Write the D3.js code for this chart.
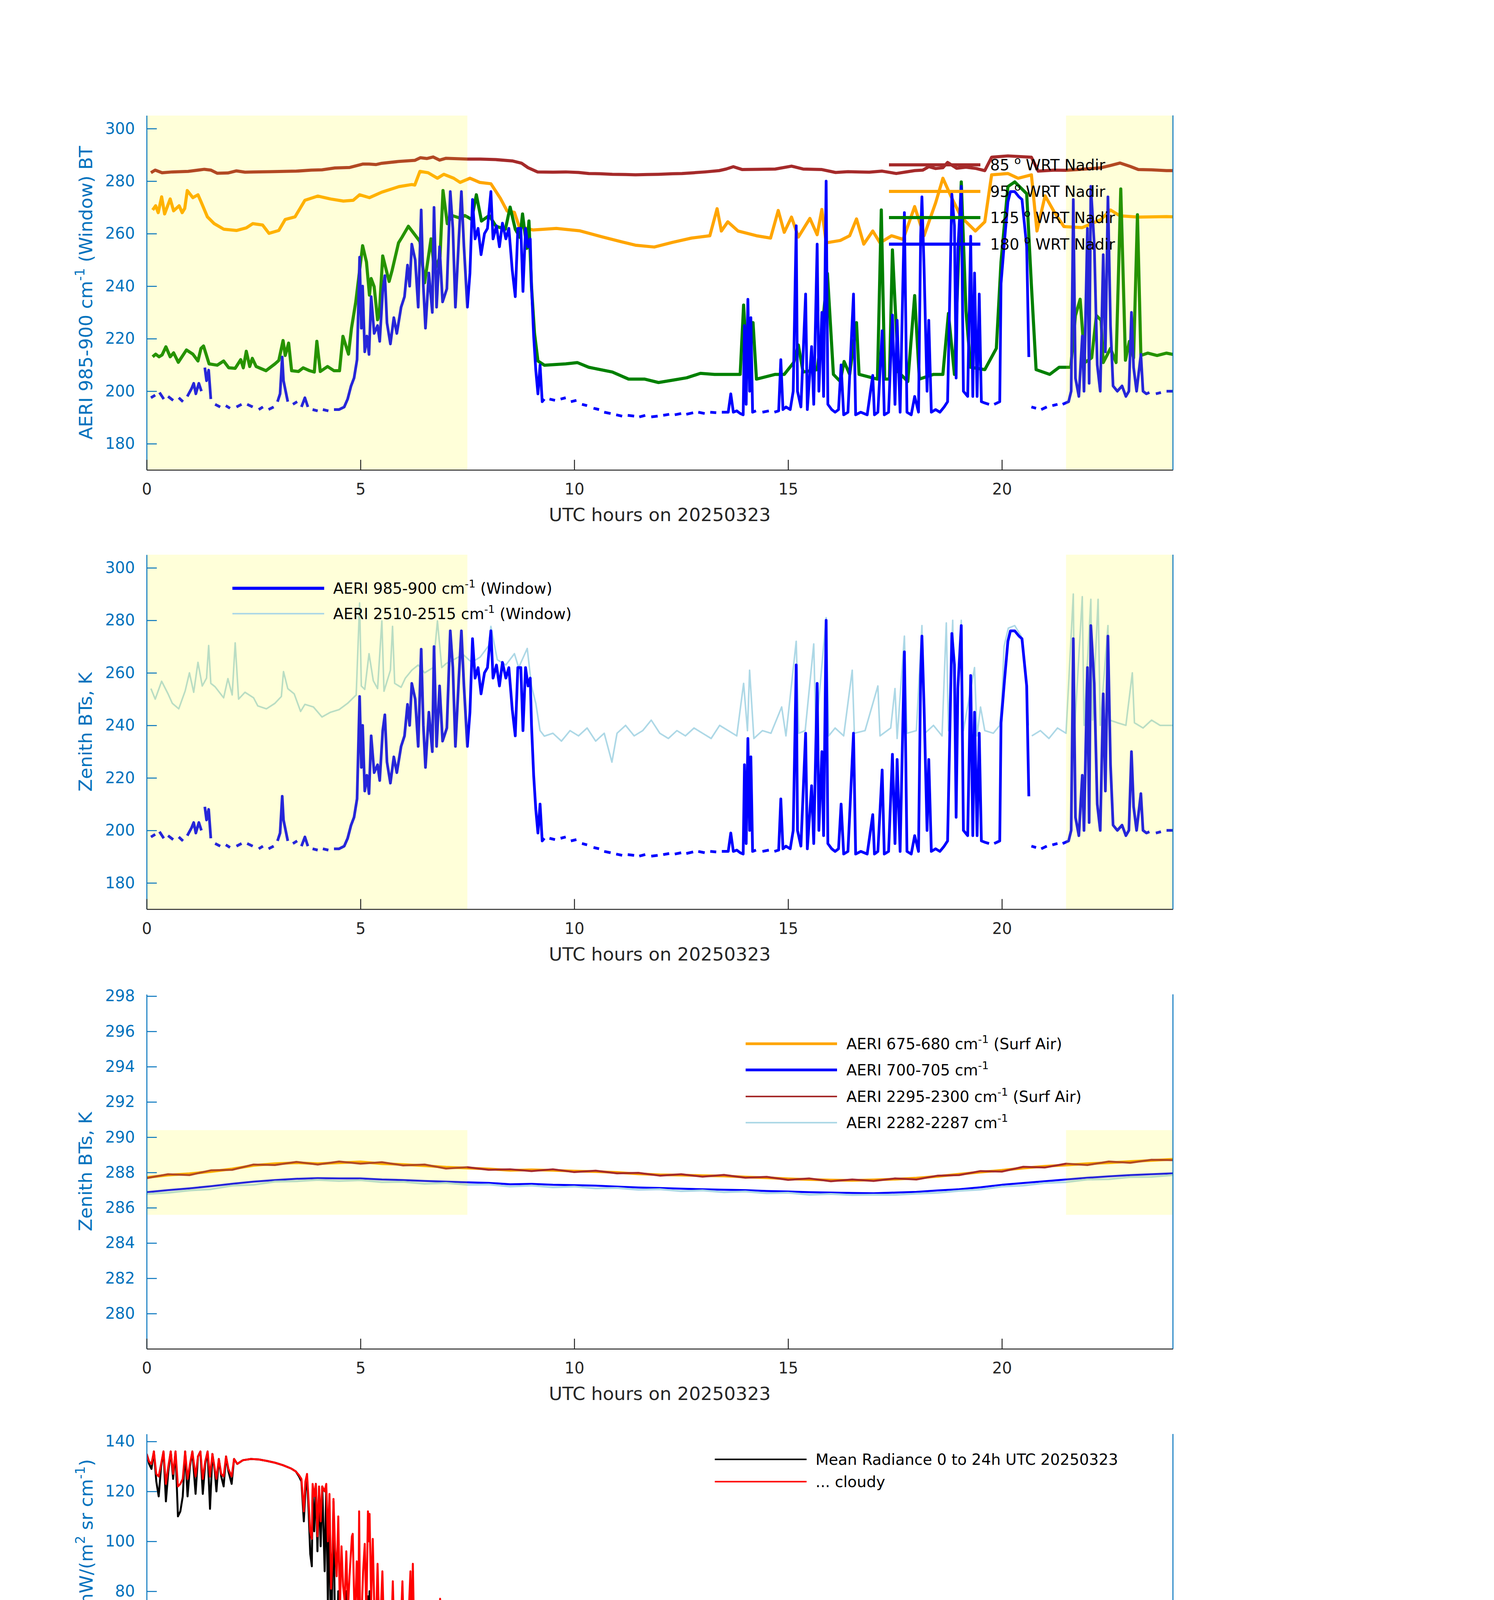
<!DOCTYPE html>
<html>
<head>
<meta charset="utf-8">
<script src="https://cdn.jsdelivr.net/npm/d3@7"></script>
<style>
  html, body { margin: 0; padding: 0; background: #fff; width: 3825px; height: 6000px; overflow: hidden; }
  svg { display: block; }
  text { font-family: "DejaVu Sans", sans-serif; }
</style>
</head>
<body>
<svg id="chart"></svg>
<script>
// ---- panel 1/2/3: hours on 20250323 ----
let shadeStart = [0, 21.5]
let shadeEnd = [7.5, 24]

let hrs85 = [0.1,0.2,0.36,0.6,0.97,1.35,1.5,1.65,1.9,2.1,
  2.3,2.5,2.9,3.2,3.5,3.85,4.1,4.4,4.75,5.06,
  5.2,5.36,5.5,5.9,6.27,6.4,6.55,6.7,6.85,7.0,
  7.5,7.8,8.16,8.55,8.77,8.92,9.14,9.5,9.8,10.1,
  10.34,10.6,10.89,11.2,11.43,11.7,11.97,12.3,12.52,12.8,
  13.06,13.39,13.55,13.72,13.93,14.3,14.7,15.08,15.35,15.6,
  15.79,16.11,16.4,16.66,16.9,17.2,17.53,17.8,17.96,18.15,
  18.29,18.45,18.62,18.73,18.94,19.16,19.4,19.6,19.76,20.14,
  20.69,20.85,21.23,21.5,21.78,22.1,22.32,22.55,22.76,23.0,
  23.19,23.5,23.85,24.0]
let bt85 = [283.2,284.2,283.2,283.5,283.7,284.5,284.2,283.0,283.1,283.9,
  283.4,283.5,283.6,283.7,283.8,284.2,284.3,285.0,285.2,286.5,
  286.5,286.3,286.8,287.5,287.9,288.9,288.6,289.2,288.0,288.7,
  288.4,288.4,288.2,287.7,286.8,285.1,283.5,283.4,283.5,283.3,
  282.9,282.8,282.6,282.5,282.4,282.5,282.6,282.8,282.9,283.2,
  283.5,284.0,284.6,285.5,284.4,284.5,284.6,285.7,284.6,284.5,
  284.4,283.3,283.6,283.5,283.4,283.8,282.9,283.6,284.0,284.2,
  285.5,284.8,285.1,287.1,284.9,285.3,284.8,284.0,289.1,289.6,
  289.1,283.8,284.2,284.1,284.4,284.8,285.1,286.0,286.9,285.6,
  284.4,284.3,284.0,284.0]

let hrs95 = [0.14,0.21,0.27,0.35,0.42,0.55,0.63,0.76,0.83,0.89,
  0.95,1.08,1.2,1.27,1.42,1.58,1.8,2.1,2.33,2.48,
  2.71,2.86,3.09,3.24,3.47,3.7,4.0,4.3,4.6,4.83,
  4.98,5.21,5.5,5.9,6.2,6.27,6.39,6.58,6.8,6.95,
  7.18,7.33,7.56,7.79,8.05,8.27,8.43,8.6,8.71,9.03,
  9.58,10.12,10.67,11.1,11.43,11.87,12.3,12.74,13.17,13.34,
  13.44,13.59,13.83,14.26,14.59,14.77,14.91,15.08,15.24,15.51,
  15.68,15.79,15.89,16.22,16.44,16.6,16.77,16.98,17.15,17.42,
  17.69,17.96,18.18,18.45,18.62,18.83,19.05,19.38,19.6,19.76,
  20.14,20.38,20.69,20.82,21.01,21.23,21.45,21.88,22.32,22.54,
  22.76,23.19,23.85,24.0]
let bt95 = [269.0,270.6,268.0,274.0,267.5,273.2,268.7,270.6,268.0,269.6,
  276.4,273.7,274.8,272.2,266.4,263.8,261.7,261.2,262.2,263.8,
  263.3,260.1,261.2,265.4,266.4,272.7,274.3,273.2,272.4,272.7,
  274.8,273.7,275.8,277.9,278.7,278.5,283.7,283.2,281.1,282.6,
  281.1,279.5,281.1,279.5,279.0,273.5,268.6,268.1,262.7,261.4,
  262.0,261.1,258.7,256.9,255.6,254.9,256.7,258.3,259.2,269.5,
  261.0,264.5,261.0,259.2,258.3,268.8,260.5,266.3,258.7,265.8,
  259.6,269.2,256.5,257.4,259.2,265.6,256.0,261.0,256.5,259.2,
  257.8,270.3,259.2,271.7,281.1,273.5,266.3,261.0,264.5,282.4,
  282.9,281.1,282.4,261.0,274.4,268.1,262.7,262.3,265.4,269.0,
  266.8,266.3,266.5,266.4]

let hrs125 = [0.14,0.21,0.29,0.36,0.45,0.55,0.63,0.74,0.93,1.08,
  1.2,1.27,1.33,1.46,1.65,1.8,1.92,2.07,2.2,2.26,
  2.33,2.41,2.47,2.56,2.79,3.0,3.09,3.19,3.24,3.32,
  3.39,3.55,3.66,3.81,3.92,3.98,4.06,4.23,4.38,4.51,
  4.59,4.72,4.79,4.89,5.05,5.14,5.21,5.25,5.32,5.4,
  5.44,5.52,5.67,5.74,5.89,5.97,6.12,6.27,6.39,6.5,
  6.65,6.73,6.86,6.93,7.03,7.14,7.33,7.44,7.6,7.71,
  7.83,8.01,8.17,8.39,8.5,8.62,8.73,8.79,8.89,8.94,
  9.0,9.07,9.15,9.3,9.8,10.07,10.34,10.89,11.27,11.65,
  11.97,12.3,12.63,12.95,13.28,13.61,13.88,13.96,14.04,14.18,
  14.26,14.7,14.91,15.13,15.24,15.35,15.68,15.79,15.92,16.06,
  16.22,16.31,16.44,16.6,16.66,17.09,17.18,17.26,17.37,17.44,
  17.58,17.8,17.96,18.07,18.4,18.62,18.75,18.89,19.05,19.16,
  19.27,19.6,19.87,19.98,20.14,20.3,20.58,20.69,20.8,21.12,
  21.34,21.61,21.72,21.83,21.94,22.1,22.21,22.32,22.37,22.54,
  22.67,22.78,22.89,22.98,23.08,23.17,23.25,23.41,23.63,23.85,
  24.0]
let bt125 = [213.1,214.1,213.1,213.8,216.9,213.1,214.6,211.0,215.7,214.1,
  211.5,216.3,217.2,210.4,209.9,211.5,208.9,208.7,212.0,208.9,
  215.2,209.4,212.5,209.4,207.8,210.4,211.7,219.3,213.6,218.3,
  207.8,207.5,208.9,207.8,207.3,219.0,207.5,209.4,207.8,207.8,
  220.9,214.1,224.0,234.0,255.4,249.2,236.6,242.9,239.8,227.2,
  229.3,251.5,241.8,246.0,256.5,258.6,262.8,259.6,257.0,241.3,
  258.0,246.0,251.2,276.4,263.8,266.9,265.9,266.9,265.4,274.8,
  264.8,266.9,262.8,261.7,270.1,261.7,258.6,267.5,254.4,264.8,
  239.7,222.0,211.5,209.9,210.4,210.9,209.1,207.3,204.6,204.6,
  203.3,204.2,205.1,206.8,206.4,206.4,206.4,232.8,209.1,226.1,
  204.6,206.4,206.4,210.9,217.6,207.3,208.2,222.5,244.8,206.4,
  203.7,211.3,206.4,226.1,206.4,204.6,269.0,204.6,204.6,253.8,
  207.3,203.7,236.4,204.6,206.4,206.4,229.6,206.4,279.7,230.5,
  209.1,208.2,216.3,249.3,277.9,279.7,275.2,240.4,208.2,206.4,
  209.1,209.1,228.8,235.0,210.9,212.7,228.8,227.0,210.9,216.3,
  210.9,277.0,211.8,218.9,212.7,267.2,213.6,214.5,213.6,214.5,
  214.0]

// 985-900 cm-1 window, zenith (same in panels 1 and 2); null = no data
let hrsWin = [0.1,0.2,0.25,0.3,0.4,0.45,0.5,0.62,0.68,0.75,
  0.85,0.9,0.95,1.05,1.1,1.15,1.22,1.28,1.32,1.36,
  1.4,1.45,1.5,1.55,1.6,1.72,1.78,1.85,1.95,2.0,
  2.1,2.22,2.28,2.35,2.48,2.55,2.62,2.72,2.78,2.85,
  2.97,3.02,3.06,3.12,3.17,3.2,3.25,3.3,3.35,3.42,
  3.52,3.58,3.62,3.7,3.77,3.82,3.88,4.0,4.05,4.12,
  4.25,4.3,4.38,4.5,4.62,4.7,4.78,4.85,4.92,4.98,
  5.02,5.05,5.1,5.15,5.2,5.25,5.32,5.4,5.45,5.52,
  5.57,5.62,5.7,5.78,5.85,5.95,6.03,6.1,6.15,6.2,
  6.28,6.35,6.42,6.47,6.52,6.6,6.68,6.72,6.78,6.85,
  6.92,7.02,7.1,7.16,7.22,7.3,7.36,7.42,7.5,7.56,
  7.62,7.68,7.75,7.82,7.9,7.97,8.05,8.1,8.18,8.25,
  8.32,8.4,8.47,8.55,8.62,8.68,8.75,8.8,8.86,8.92,
  8.97,9.0,9.05,9.1,9.15,9.2,9.25,9.3,9.35,9.42,
  9.55,9.6,9.68,9.8,9.85,9.92,10.05,10.1,10.18,10.3,
  10.35,10.45,10.58,10.62,10.7,10.85,10.9,10.98,11.12,11.18,
  11.25,11.4,11.45,11.52,11.66,11.72,11.8,11.95,12.0,12.08,
  12.22,12.28,12.35,12.5,12.55,12.62,12.78,12.82,12.9,13.05,
  13.1,13.18,13.32,13.38,13.45,13.6,13.66,13.72,13.8,13.88,
  13.95,13.98,14.02,14.06,14.1,14.13,14.17,14.25,14.32,14.4,
  14.55,14.6,14.68,14.78,14.83,14.88,14.95,15.05,15.12,15.19,
  15.22,15.3,15.41,15.45,15.55,15.6,15.68,15.72,15.79,15.83,
  15.89,15.93,16.02,16.1,16.18,16.24,16.3,16.4,16.53,16.58,
  16.7,16.85,16.98,17.02,17.1,17.2,17.25,17.35,17.44,17.5,
  17.55,17.62,17.72,17.78,17.88,17.96,18.05,18.1,18.13,18.18,
  18.25,18.29,18.35,18.45,18.55,18.65,18.73,18.83,18.89,18.93,
  18.97,19.05,19.1,19.2,19.27,19.32,19.36,19.42,19.47,19.52,
  19.6,19.7,19.75,19.82,19.95,19.98,20.06,20.14,20.2,20.3,
  20.4,20.47,20.58,20.63,20.66,20.69,20.8,20.85,20.92,21.05,
  21.1,21.18,21.3,21.35,21.42,21.56,21.62,21.67,21.72,21.8,
  21.88,21.92,22.0,22.04,22.08,22.16,22.23,22.3,22.37,22.42,
  22.48,22.54,22.6,22.7,22.81,22.9,22.97,23.03,23.08,23.15,
  23.25,23.3,23.38,23.45,23.52,23.6,23.72,23.78,23.85,24.0]
let btWin = [197.5,198.5,null,199.5,197,null,198,196.5,null,197.5,
  196,null,198,201,203,199,203,200,null,209,
  204,208,197,null,195,194,null,194.5,193.5,null,
  194,195,null,195,194,null,193,194,null,193,
  194,null,196,199,213,204,200,196,null,195,
  196,null,194,197.5,194,null,193,192.5,null,193,
  192.5,null,193,193,194,197,202,205,212,251,
  224,240,215,221,214,236,222,225,219,238,
  244,226,218,228,222,232,236,248,240,256,
  250,232,269,240,224,245,230,270,232,255,
  234,239,276,262,232,258,276,255,232,245,
  273,258,262,252,260,262,276,258,263,255,
  264,258,262,246,236,262,262,238,262,255,
  258,240,221,208,199,210,196,197,null,197,
  196.5,null,197,197.5,null,196,196.5,null,195,194.5,
  null,193.5,193,null,192,191.5,null,191,190.5,null,
  190.8,190.5,null,190.2,190.8,null,190.2,190.5,null,190.8,
  191.2,null,191,191.5,null,191.2,191.8,null,192,191.5,
  null,192,191.8,null,192,192,199,192,192.5,191.5,
  191,225,195,235,200,228,192,192.5,null,192,
  192.5,null,192,192.5,212,193,194,193,200,263,
  200,194,237,193,217,195,256,200,230,198,
  280,195,193,192,193,210,191,192,237,191,
  192,191,206,191,192,223,191,192,229,195,
  227,192,268,192,191,198,192,259,274,247,
  200,227,192,193,192,194,196,275,263,205,
  254,278,200,198,259,198,245,198,237,196,
  195.5,195,null,195,196,241,257,272,276,276,
  274,273,255,213,null,194,193.5,null,193,194,
  null,194.5,195,null,195,196,200,273,205,198,
  221,200,262,203,278,256,210,200,252,215,
  274,225,202,200,202,198,200,230,209,200,
  214,200,199,199.5,null,199,199.5,null,200,200]

// 2510-2515 cm-1 window, zenith
let hrsLb = [0.1,0.2,0.35,0.5,0.6,0.75,0.9,1.0,1.1,1.2,
  1.3,1.4,1.45,1.5,1.6,1.8,1.9,2.0,2.07,2.15,
  2.3,2.5,2.6,2.8,3.0,3.15,3.2,3.3,3.45,3.6,
  3.7,3.9,4.1,4.3,4.5,4.7,4.9,4.98,5.02,5.1,
  5.2,5.3,5.4,5.5,5.55,5.7,5.75,5.8,5.95,6.05,
  6.2,6.35,6.5,6.7,6.8,6.9,7.0,7.2,7.4,7.6,
  7.8,8.0,8.05,8.2,8.4,8.6,8.7,8.9,9.0,9.1,
  9.2,9.3,9.5,9.7,9.9,10.1,10.3,10.5,10.7,10.88,
  11.0,11.2,11.4,11.6,11.8,12.0,12.2,12.4,12.6,12.8,
  13.0,13.2,13.4,13.6,13.8,13.96,14.05,14.1,14.2,14.4,
  14.6,14.85,14.95,15.19,15.25,15.4,15.6,15.65,15.89,15.95,
  16.1,16.3,16.5,16.55,16.8,17.1,17.15,17.4,17.5,17.55,
  17.72,17.78,18.0,18.13,18.2,18.4,18.6,18.7,18.75,18.85,
  18.9,19.05,19.1,19.36,19.42,19.5,19.6,19.8,19.95,20.0,
  20.05,20.15,20.3,20.45,20.55,20.62,20.66,20.7,20.9,21.1,
  21.3,21.5,21.67,21.7,21.88,21.92,22.08,22.12,22.25,22.3,
  22.48,22.52,22.7,22.9,23.05,23.1,23.3,23.5,23.7,24.0]
let btLb = [254,250,256.8,252,248.4,246.3,253.1,260,252.6,264,
  255,258,270.4,256,254.7,250.5,257.8,251.6,271.4,250,
  252.6,250.5,247.4,246.3,248.4,251,260.5,254,252,245.3,
  248,247,243.2,245,246,248.4,251.6,286.6,255,253.7,
  267.3,257,254,279.8,253,261,277.7,256,254.5,258,
  261,263,260,262,279.8,262,263.5,265.2,267,264,
  266,270.4,277.7,265,263,267.3,262,269.3,255,248.4,
  238,235.9,237,234,238,236,239,234,237,226,
  237,240,236,238,242,237,235,238,236,239,
  237,235,240,238,236,256,238,261,235,238,
  237,247,236,272,237,238,271,237,281,236,
  239,236,261,237,238,255,236,239,254,235,
  274,237,238,278,237,240,236,279,238,280,
  236,280,238,262,236,247,238,237,240,250,
  270,277,278,274,260,240,null,236,238,235,
  239,237,290,238,289,240,288,242,288,240,
  278,242,241,240,260,241,239,242,240,240]

// panel 3: surface air and clear channels
let hrs3 = [0,0.5,1,1.5,2,2.5,3,3.5,4,4.5,5,5.5,6,6.5,7,7.5,8,8.5,9,9.5,
  10,10.5,11,11.5,12,12.5,13,13.5,14,14.5,15,15.5,16,16.5,17,17.5,18,18.5,19,19.5,
  20,20.5,21,21.5,22,22.5,23,23.5,24]
let bt675 = [287.72,287.85,287.93,288.05,288.2,288.4,288.5,288.55,288.5,288.55,
  288.6,288.5,288.45,288.38,288.3,288.25,288.2,288.12,288.15,288.12,
  288.08,288.05,288.0,287.92,287.87,287.85,287.82,287.8,287.74,287.7,
  287.64,287.6,287.57,287.55,287.58,287.62,287.68,287.78,287.9,288.02,
  288.12,288.25,288.35,288.42,288.5,288.55,288.62,288.68,288.75]
let bt700 = [286.88,287.0,287.1,287.22,287.36,287.48,287.57,287.64,287.68,287.66,
  287.66,287.6,287.57,287.52,287.48,287.44,287.41,287.33,287.35,287.3,
  287.28,287.25,287.2,287.15,287.12,287.08,287.05,287.02,287.0,286.95,
  286.92,286.88,286.86,286.84,286.82,286.86,286.9,286.98,287.05,287.16,
  287.3,287.4,287.5,287.6,287.7,287.78,287.85,287.9,287.95]
let bt2295 = [287.68,287.9,287.85,288.12,288.15,288.45,288.42,288.6,288.45,288.62,
  288.5,288.58,288.4,288.45,288.22,288.3,288.15,288.18,288.08,288.18,
  288.02,288.1,287.95,287.98,287.82,287.9,287.76,287.86,287.7,287.75,
  287.58,287.66,287.5,287.6,287.52,287.66,287.6,287.82,287.85,288.08,
  288.05,288.32,288.28,288.5,288.42,288.62,288.55,288.72,288.7]
let bt2282 = [286.78,286.85,286.98,287.05,287.25,287.3,287.48,287.5,287.58,287.52,
  287.56,287.45,287.47,287.36,287.4,287.3,287.32,287.2,287.26,287.16,
  287.2,287.1,287.12,287.02,287.05,286.94,286.98,286.88,286.92,286.82,
  286.85,286.74,286.78,286.72,286.74,286.73,286.8,286.85,286.96,287.03,
  287.2,287.26,287.4,287.45,287.6,287.62,287.74,287.75,287.85]

// ---- panel 4: mean radiance 520-1800 cm-1 ----
let wn4 = [520,523,526,529,532,535,538,541,544,547,
  550,553,556,559,562,565,568,571,574,577,
  581,584,587,590,593,596,599,602,605,607,
  610,613,616,619,622,626,629,633,640,650,
  660,670,680,690,700,706,710,713,716,718,
  720,722,724,726,727,729,731,733,735,737,
  739,742,744,746,748,750,752,753,755,757,
  759,761,763,765,767,769,771,773,776,777,
  779,780,782,784,785,786,788,790,792,794,
  796,797,798,800,802,804,806,808,810,812,
  814,816,818,820,822,825,827,829,832,836,
  839,841,845,849,850,852,854,858,861,865,
  867,871,873,878,882,886,888,892,896,900,
  904,909,911,916,920,922,924,928,932,936,
  940,944,947,949,953,957,961,965,970,975,
  976,980,985,990,995,1000,1005,1010,1013,1015,
  1018,1022,1028,1031,1036,1039,1043,1046,1050,1055,
  1058,1062,1065,1068,1072,1074,1077,1082,1086,1090,
  1093,1098,1102,1105,1108,1112,1114,1117,1121,1124,
  1128,1132,1135,1138,1143,1148,1151,1155,1160,1165,
  1170,1174,1177,1182,1186,1189,1193,1198,1201,1205,
  1210,1213,1217,1220,1223,1227,1230,1234,1237,1240,
  1243,1247,1250,1253,1256,1259,1262,1265,1268,1271,
  1274,1277,1281,1284,1287,1290,1294,1298,1301,1305,
  1309,1313,1318,1322,1326,1329,1332,1336,1340,1345,
  1350,1360,1370,1380,1390,1400,1410,1420,1421,1423,
  1430,1436,1438,1445,1456,1458,1470,1480,1490,1500,
  1512,1514,1520,1523,1530,1540,1543,1546,1555,1563,
  1566,1580,1600,1615,1621,1624,1635,1640,1643,1651,
  1656,1659,1670,1677,1680,1690,1697,1699,1702,1705,
  1717,1720,1740,1760,1780,1800]
let radAll4 = [135,131,129,136,124,118,130,136,116,128,
  136,125,136,110,112,118,136,118,130,136,
  119,134,136,119,131,136,113,135,128,120,
  133,126,122,134,128,123,133,131,132.5,133,
  132.8,132.2,131.5,130.5,129.2,128,126,124,108,120,
  126,112,95,90,121,104,123,96,121,98,
  122,88,122,75,110,54,95,116,60,45,
  80,48,62,35,55,80,38,56,72,75,
  40,36,60,40,80,42,38,58,72,45,
  78,68,80,48,75,35,42,68,33,45,
  64,32,42,33,34,30,80,30,29,28,
  82,28,27,84,28,88,26,26,26,70,
  25,72,24,24,23,74,23,22,22,21,
  22,70,21,21,20,62,20,20,20,19,
  19,20,58,19,19,18,17,18,16,24,
  15,14,15,14,15,15,17,20,34,36,
  22,23,36,24,22,33,20,12,24,25,
  30,20,40,10,9,35,8,9,9,20,
  9,9,9,40,9,10,40,9,9,35,
  9,9,55,9,9,45,9,9,10,9,
  10,50,9,9,54,10,9,45,9,9,
  40,9,9,30,12,9,7,7,20,44,
  12,18,30,22,15,35,25,30,38,37,
  34,32,36,22,30,34,25,32,30,33,
  34,34,35,36,28,26,33,34,34,33,
  33.5,33,32.5,32,31.2,30.4,29.7,29,33,28.8,
  27.8,30,27,26.5,28,25.8,25,24.5,24,23.6,
  24.5,22.6,25.5,22,21.5,20.5,20.3,20.1,19.6,19.2,
  19,17.8,16.5,15.7,15.4,15.2,14.6,14.4,14.2,13.8,
  13.5,13.4,12.9,12.6,12.5,12,11.7,11.6,11.5,11.4,
  10.9,10.8,10.1,9.5,9,8.5]
let radCld4 = [135,132,131,136,127,126,131,136,123,130,
  136,127,136,122,123,125,136,125,131,136,
  126,134,136,125,132,136,126,135,129,125,
  133,127,126,134,129,126,133,131,132.5,133,
  132.8,132.2,131.5,130.5,129.2,128,126.5,125,112,124,
  127,116,104,101,123,118,123,102,122,108,
  122,120,123,100,119,81,97,117,97,86,
  110,72,98,82,76,96,72,86,102,103,
  74,70,92,68,112,74,70,88,99,70,
  112,100,111,76,101,72,67,91,66,72,
  88,64,66,63,62,61,84,60,59,58,
  84,58,57,88,60,91,55,55,54,73,
  54,75,53,52,53,77,51,50,50,49,
  48,72,48,47,46,64,46,45,45,44,
  44,43,61,43,43,42,40,41,39,48,
  39,38,37,37,36,36,38,46,57,49,
  38,38,48,39,38,45,37,36,39,38,
  40,34,57,33,31,53,30,29,29,52,
  28,28,27,52,27,27,52,26,26,52,
  26,26,58,26,25,49,25,26,26,25,
  26,54,25,25,57,25,24,50,24,22,
  49,22,24,50,27,26,25,28,33,46,
  29,28,35,33,31,43,40,44,40,39,
  42,38,38,33,36,35,33,35,36,35,
  35,36,36,37,34,28,34,35,34.5,33.5,
  33.8,33.2,32.7,32.2,31.4,30.5,29.8,29,33,28.8,
  27.8,30,27,26.5,28,25.8,25,24.5,24,23.6,
  24.5,22.6,25.5,22,21.5,20.6,28.5,20.2,19.6,26,
  19,17.8,16.5,15.7,21,15.2,14.6,18.5,14.2,13.8,
  20,13.4,12.9,16,12.5,12,18,11.6,15.5,11.4,
  17,10.8,10.1,9.5,9,8.5]

// ---- panel 5: mean radiance 1800-3020 cm-1 ----
let wn5 = [1800,1801,1803,1805,1808,1811,1813,1815,1818,1820,
  1823,1825,1828,1830,1833,1836,1838,1842,1845,1848,
  1852,1856,1858,1860,1862,1865,1868,1871,1874,1876,
  1878,1880,1882,1885,1888,1891,1894,1896,1898,1900,
  1902,1905,1907,1910,1913,1916,1919,1922,1925,1928,
  1930,1932,1934,1936,1938,1941,1944,1947,1949,1952,
  1955,1957,1959,1962,1964,1966,1969,1971,1973,1976,
  1978,1980,1982,1985,1988,1991,1993,1996,1998,2000,
  2003,2005,2008,2011,2014,2017,2020,2022,2025,2028,
  2030,2033,2036,2038,2040,2042,2044,2046,2048,2050,
  2053,2056,2058,2060,2063,2065,2068,2070,2072,2073,
  2076,2078,2080,2083,2086,2088,2090,2092,2095,2098,
  2100,2103,2105,2107,2110,2113,2116,2118,2120,2124,
  2126,2128,2130,2132,2135,2138,2140,2142,2144,2146,
  2148,2150,2152,2155,2158,2160,2162,2165,2167,2170,
  2172,2175,2177,2180,2183,2185,2188,2190,2193,2195,
  2198,2200,2203,2205,2208,2210,2213,2215,2218,2220,
  2223,2225,2228,2230,2233,2235,2237,2240,2242,2246,
  2250,2255,2260,2265,2270,2275,2280,2290,2300,2310,
  2320,2330,2340,2350,2360,2362,2364,2370,2380,2385,
  2390,2395,2400,2410,2420,2435,2450,2475,2500,2525,
  2550,2575,2600,2625,2640,2650,2675,2700,2720,2725,
  2750,2775,2800,2850,2900,2920,2950,2975,3000,3020]
let radAll5 = [8.6,8.8,8.4,8.35,8.3,8.45,8.2,7.7,8.15,7.6,
  7.9,8.05,7.9,8.0,7.7,7.55,7.6,7.55,7.4,7.6,
  7.35,7.2,6.9,6.5,7.1,6.5,6.95,7.0,6.8,6.0,
  6.3,5.45,5.6,6.45,6.0,6.45,6.0,6.3,5.8,4.65,
  5.3,5.9,5.5,5.9,5.3,5.6,5.85,5.55,5.7,5.0,
  4.2,3.65,4.2,5.3,3.6,4.4,5.3,5.2,4.6,3.8,
  2.8,5.0,4.2,2.75,4.6,4.9,3.3,4.8,4.9,1.85,
  2.6,4.3,1.5,2.2,1.9,3.5,4.5,4.4,2.8,2.2,
  4.3,1.3,1.2,4.0,3.9,1.48,2.3,4.0,1.4,3.9,
  1.3,3.8,0.9,1.3,0.8,1.0,2.2,3.3,3.5,2.8,
  1.6,1.2,1.5,0.95,1.5,1.2,2.0,3.3,2.0,1.05,
  3.3,1.6,1.3,1.8,1.1,2.0,2.8,1.2,0.8,1.5,
  1.1,1.6,1.0,0.6,1.5,0.5,1.2,0.8,0.5,1.2,
  0.6,1.6,0.7,0.45,1.0,0.5,1.2,0.6,0.4,0.8,
  1.5,0.6,1.3,0.35,1.2,0.5,0.4,1.0,0.45,0.35,
  0.7,1.0,0.5,0.4,0.7,0.55,0.8,0.6,0.9,0.8,
  1.1,1.0,1.3,1.2,1.4,1.3,1.4,1.45,1.5,1.45,
  1.5,1.45,1.4,1.3,0.95,1.2,1.4,1.55,1.6,1.62,
  1.65,1.67,1.68,1.66,1.67,1.65,1.63,1.59,1.54,1.49,
  1.43,1.38,1.33,1.28,1.23,1.3,1.22,1.18,1.11,1.03,
  0.76,0.52,0.43,0.35,0.28,0.25,0.22,0.18,0.14,0.12,
  0.1,0.09,0.09,0.1,0.09,0.09,0.1,0.09,0.13,0.09,
  0.08,0.07,0.06,0.06,0.05,0.05,0.05,0.05,0.05,0.05]
let radCld5 = [8.75,8.9,8.5,8.6,8.35,8.45,8.35,7.8,8.17,7.63,
  7.95,8.07,7.95,8.0,7.7,7.6,7.65,7.6,7.4,7.6,
  7.4,7.2,7.0,6.7,7.15,6.6,7.0,7.02,6.85,6.2,
  6.37,5.66,5.7,6.53,6.1,6.5,6.1,6.35,6.0,5.1,
  5.6,6.05,5.6,5.95,5.42,5.7,5.9,5.6,5.8,5.1,
  4.48,4.0,4.6,5.42,3.7,4.5,5.4,5.3,4.7,4.2,
  3.8,5.6,4.4,3.2,4.8,5.0,3.5,4.95,4.95,2.5,
  3.0,4.5,2.3,3.2,2.2,3.8,4.58,4.5,3.2,2.4,
  4.4,2.2,1.9,4.08,4.0,2.2,2.6,4.1,2.0,4.0,
  1.9,3.9,1.8,1.5,3.0,1.6,2.5,3.4,3.7,3.8,
  2.5,2.0,2.1,2.1,2.2,2.05,2.5,3.4,2.2,2.0,
  3.4,1.9,1.8,2.2,3.05,2.5,2.9,1.6,1.56,2.0,
  2.74,3.2,1.5,1.4,2.3,1.3,2.3,1.5,1.2,2.1,
  1.1,2.66,1.3,1.1,1.6,1.0,2.0,1.0,1.2,1.7,
  2.23,1.0,2.0,1.0,1.9,1.0,1.0,1.75,0.9,1.0,
  1.3,2.03,1.0,1.0,1.3,1.2,1.4,1.3,1.6,1.48,
  1.6,1.75,1.5,1.4,1.7,1.64,1.55,1.6,1.6,1.55,
  1.55,1.5,1.45,1.35,1.05,1.25,1.45,1.58,1.62,1.68,
  1.7,1.7,1.72,1.7,1.7,1.68,1.66,1.62,1.56,1.51,
  1.45,1.4,1.35,1.3,1.25,1.35,1.24,1.2,1.12,1.05,
  0.8,0.6,0.54,0.48,0.43,0.39,0.35,0.3,0.26,0.23,
  0.21,0.2,0.19,0.18,0.2,0.17,0.16,0.14,0.2,0.14,
  0.12,0.1,0.09,0.08,0.06,0.08,0.07,0.09,0.09,0.07]

// ---- layout ----
let width = 3825
let height = 6000
let axLeft = 375.5
let axRight = 3003
let panelTop = [295.6, 1420, 2545.5, 3671, 4794.7]
let panelH = 907.5
let axisBlue = "#0072BD"
let axisDark = "#262626"
let tickFont = 40
let labelFont = 47
let legendFont = 39

let svg = d3.select("#chart").attr("width", width).attr("height", height)
svg.append("rect").attr("width", width).attr("height", height).attr("fill", "#fff")

// superscripts are [text, true]
let addRich = (t, parts, size) => {
  let cur = 0
  parts.forEach((p) => {
    let s = t.append("tspan").text(p[0])
    let want = p[1] ? -0.42 * size : 0
    if (p[1]) s.style("font-size", (size * 0.7) + "px")
    if (want !== cur) s.attr("dy", want - cur)
    cur = want
  })
}

let makePanel = (i, xDomain, yDomain) => {
  let top = panelTop[i]
  let bottom = top + panelH
  let x = d3.scaleLinear().domain(xDomain).range([axLeft, axRight])
  let y = d3.scaleLinear().domain(yDomain).range([bottom, top])
  let g = svg.append("g")
  svg.append("clipPath").attr("id", "clip" + i)
    .append("rect")
    .attr("x", axLeft).attr("y", top)
    .attr("width", axRight - axLeft).attr("height", panelH)
  let plot = g.append("g").attr("clip-path", "url(#clip" + i + ")")
  return { g, plot, x, y, top, bottom }
}

let drawSeries = (p, xs, ys, color, w) => {
  let line = d3.line()
    .defined((d) => d[1] !== null)
    .x((d) => p.x(d[0]))
    .y((d) => p.y(d[1]))
  p.plot.append("path")
    .datum(d3.zip(xs, ys))
    .attr("d", line)
    .attr("fill", "none")
    .attr("stroke", color)
    .attr("stroke-width", w)
    .attr("stroke-linejoin", "round")
}

let drawShade = (p, lo, hi) => {
  p.plot.selectAll(null)
    .data(d3.zip(shadeStart, shadeEnd))
    .enter()
    .append("rect")
    .attr("x", (d) => p.x(d[0]))
    .attr("width", (d) => p.x(d[1]) - p.x(d[0]))
    .attr("y", p.y(hi))
    .attr("height", p.y(lo) - p.y(hi))
    .attr("fill", "#ffff00")
    .attr("fill-opacity", 0.15)
}

let drawAxes = (p, xTicks, yTicks) => {
  let yAxis = d3.axisLeft(p.y)
    .tickValues(yTicks)
    .tickSizeInner(-26)
    .tickSizeOuter(0)
    .tickPadding(30)
    .tickFormat(d3.format("d"))
  let ga = p.g.append("g")
    .attr("transform", "translate(" + axLeft + ",0)")
    .call(yAxis)
  ga.attr("font-size", null).attr("font-family", null)
  ga.select(".domain").attr("stroke", axisBlue).attr("stroke-width", 2.5)
  ga.selectAll(".tick line").attr("stroke", axisBlue).attr("stroke-width", 2.5)
  ga.selectAll(".tick text").attr("fill", axisBlue).style("font-size", tickFont + "px")

  let xAxis = d3.axisBottom(p.x)
    .tickValues(xTicks)
    .tickSizeInner(-26)
    .tickSizeOuter(0)
    .tickPadding(35)
    .tickFormat(d3.format("d"))
  let gx = p.g.append("g")
    .attr("transform", "translate(0," + p.bottom + ")")
    .call(xAxis)
  gx.attr("font-size", null).attr("font-family", null)
  gx.select(".domain").attr("stroke", axisDark).attr("stroke-width", 2.5)
  gx.selectAll(".tick line").attr("stroke", axisDark).attr("stroke-width", 2.5)
  gx.selectAll(".tick text").attr("fill", axisDark).style("font-size", tickFont + "px")

  p.g.append("line")
    .attr("x1", axRight).attr("x2", axRight)
    .attr("y1", p.top).attr("y2", p.bottom)
    .attr("stroke", axisBlue).attr("stroke-width", 2.5)
}

let drawLabels = (p, yParts, yCx, xParts, xGap) => {
  let ty = p.g.append("text")
    .attr("transform", "translate(" + yCx + "," + (p.top + p.bottom) / 2 + ") rotate(-90)")
    .attr("y", 0.36 * labelFont)
    .attr("text-anchor", "middle")
    .attr("fill", axisBlue)
    .style("font-size", labelFont + "px")
  addRich(ty, yParts, labelFont)

  let tx = p.g.append("text")
    .attr("x", (axLeft + axRight) / 2)
    .attr("y", p.bottom + xGap)
    .attr("text-anchor", "middle")
    .attr("fill", axisDark)
    .style("font-size", labelFont + "px")
  addRich(tx, xParts, labelFont)
}

let drawLegend = (p, items, x0, x1, tx, rows) => {
  items.forEach((it, k) => {
    p.g.append("line")
      .attr("x1", x0).attr("x2", x1)
      .attr("y1", rows[k]).attr("y2", rows[k])
      .attr("stroke", it.color).attr("stroke-width", it.w)
    let t = p.g.append("text")
      .attr("x", tx)
      .attr("y", rows[k] + 0.37 * legendFont)
      .attr("fill", "#000")
      .style("font-size", legendFont + "px")
    addRich(t, it.label, legendFont)
  })
}

let hourTicks = [0, 5, 10, 15, 20]
let btTicks = [180, 200, 220, 240, 260, 280, 300]
let utcLabel = [["UTC hours on 20250323"]]
let wnLabel = [["Wavenumber, cm"], ["-1", true]]
let radLabel = [["Mean Radiance, mW/(m"], ["2", true], [" sr cm"], ["-1", true], [")"]]

// panel 1
let p1 = makePanel(0, [0, 24], [170, 305])
drawSeries(p1, hrs85, bt85, "#A52A2A", 8)
drawSeries(p1, hrs95, bt95, "#FFA500", 8)
drawSeries(p1, hrs125, bt125, "#008000", 8)
drawSeries(p1, hrsWin, btWin, "#0000FF", 7)
drawShade(p1, 170, 305)
drawAxes(p1, hourTicks, btTicks)
drawLabels(p1, [["AERI 985-900 cm"], ["-1", true], [" (Window) BT"]], 219, utcLabel, 131)
drawLegend(p1, [
  { color: "#A52A2A", w: 8, label: [["85 "], ["o", true], [" WRT Nadir"]] },
  { color: "#FFA500", w: 8, label: [["95 "], ["o", true], [" WRT Nadir"]] },
  { color: "#008000", w: 8, label: [["125 "], ["o", true], [" WRT Nadir"]] },
  { color: "#0000FF", w: 8, label: [["180 "], ["o", true], [" WRT Nadir"]] }
], 2276, 2510, 2535, [422, 490, 557, 625])

// panel 2
let p2 = makePanel(1, [0, 24], [170, 305])
drawSeries(p2, hrsLb, btLb, "#ADD8E6", 4)
drawSeries(p2, hrsWin, btWin, "#0000FF", 7)
drawShade(p2, 170, 305)
drawAxes(p2, hourTicks, btTicks)
drawLabels(p2, [["Zenith BTs, K"]], 218, utcLabel, 131)
drawLegend(p2, [
  { color: "#0000FF", w: 8, label: [["AERI 985-900 cm"], ["-1", true], [" (Window)"]] },
  { color: "#ADD8E6", w: 4, label: [["AERI 2510-2515 cm"], ["-1", true], [" (Window)"]] }
], 595, 830, 853, [1506, 1571])

// panel 3
let p3 = makePanel(2, [0, 24], [278, 298.1])
drawSeries(p3, hrs3, bt675, "#FFA500", 7)
drawSeries(p3, hrs3, bt700, "#0000FF", 5)
drawSeries(p3, hrs3, bt2295, "#A52A2A", 5)
drawSeries(p3, hrs3, bt2282, "#ADD8E6", 5)
drawShade(p3, 285.6, 290.4)
drawAxes(p3, hourTicks, [280, 282, 284, 286, 288, 290, 292, 294, 296, 298])
drawLabels(p3, [["Zenith BTs, K"]], 218, utcLabel, 131)
drawLegend(p3, [
  { color: "#FFA500", w: 7, label: [["AERI 675-680 cm"], ["-1", true], [" (Surf Air)"]] },
  { color: "#0000FF", w: 7, label: [["AERI 700-705 cm"], ["-1", true]] },
  { color: "#A52A2A", w: 4, label: [["AERI 2295-2300 cm"], ["-1", true], [" (Surf Air)"]] },
  { color: "#ADD8E6", w: 4, label: [["AERI 2282-2287 cm"], ["-1", true]] }
], 1909, 2143, 2167, [2672, 2739, 2807, 2874])

// panel 4
let p4 = makePanel(3, [520, 1800], [1, 143])
drawSeries(p4, wn4, radAll4, "#000000", 5)
drawSeries(p4, wn4, radCld4, "#FF0000", 5)
drawAxes(p4, [600, 800, 1000, 1200, 1400, 1600, 1800], [20, 40, 60, 80, 100, 120, 140])
drawLabels(p4, radLabel, 220, wnLabel, 140)
drawLegend(p4, [
  { color: "#000000", w: 4, label: [["Mean Radiance 0 to 24h UTC 20250323"]] },
  { color: "#FF0000", w: 4, label: [["... cloudy"]] }
], 1830, 2065, 2088, [3736, 3793])

// panel 5
let p5 = makePanel(4, [1800, 3020], [-0.4, 9.37])
drawSeries(p5, wn5, radAll5, "#000000", 5)
drawSeries(p5, wn5, radCld5, "#FF0000", 5)
drawAxes(p5, [1800, 2000, 2200, 2400, 2600, 2800, 3000], [0, 1, 2, 3, 4, 5, 6, 7, 8, 9])
drawLabels(p5, radLabel, 266, wnLabel, 140)
drawLegend(p5, [
  { color: "#000000", w: 4, label: [["Mean Radiance 0 to 24h UTC 20250323"]] },
  { color: "#FF0000", w: 4, label: [["... cloudy"]] }
], 1830, 2065, 2088, [4860, 4917])
</script>
</body>
</html>
